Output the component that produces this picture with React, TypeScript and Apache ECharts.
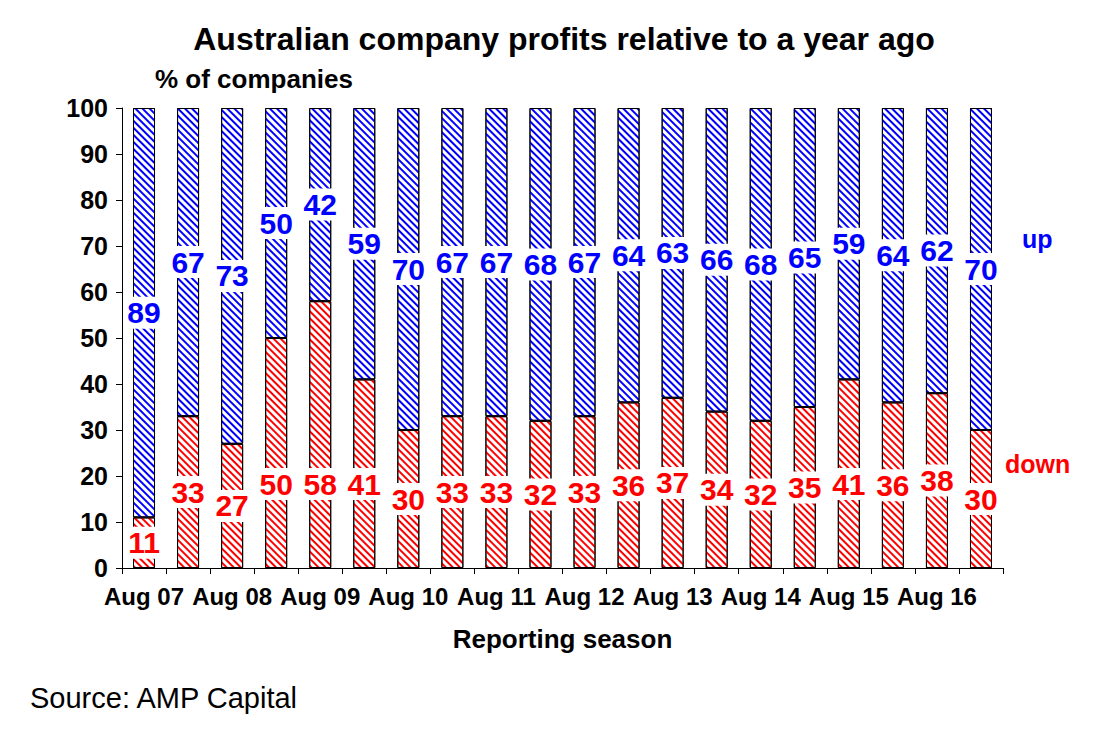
import * as echarts from "echarts";
import { useEffect, useRef } from "react";

const seasons = [
  "Aug 07", "Feb 08", "Aug 08", "Feb 09", "Aug 09", "Feb 10", "Aug 10", "Feb 11", "Aug 11", "Feb 12",
  "Aug 12", "Feb 13", "Aug 13", "Feb 14", "Aug 14", "Feb 15", "Aug 15", "Feb 16", "Aug 16", "Feb 17",
];
const down = [11, 33, 27, 50, 58, 41, 30, 33, 33, 32, 33, 36, 37, 34, 32, 35, 41, 36, 38, 30];
const up = [89, 67, 73, 50, 42, 59, 70, 67, 67, 68, 67, 64, 63, 66, 68, 65, 59, 64, 62, 70];

const FONT = "Liberation Sans, Arial, sans-serif";

function decal(color: string) {
  return {
    symbol: "rect",
    color,
    dashArrayX: [1, 0],
    dashArrayY: [2, 3],
    rotation: Math.PI / 4,
    symbolSize: 1,
  };
}

const labelBase = {
  show: true,
  fontFamily: FONT,
  fontWeight: "bold" as const,
  fontSize: 30,
  backgroundColor: "#fff",
  padding: [1, 1],
};

export default function App() {
  const ref = useRef<HTMLDivElement | null>(null);

  useEffect(() => {
    if (!ref.current) return;
    const chart = echarts.init(ref.current, undefined, { renderer: "svg" });
    chart.setOption({
      animation: false,
      backgroundColor: "#fff",
      textStyle: { fontFamily: FONT },
      title: {
        text: "Australian company profits relative to a year ago",
        left: 559,
        top: 18,
        textAlign: "center",
        textStyle: { fontFamily: FONT, fontWeight: "bold", fontSize: 32, color: "#000" },
      },
      grid: { left: 122, right: 91, top: 108, bottom: 162 },
      xAxis: {
        type: "category",
        data: seasons,
        name: "Reporting season",
        nameLocation: "middle",
        nameGap: 58,
        nameTextStyle: { fontFamily: FONT, fontWeight: "bold", fontSize: 26, color: "#000" },
        axisLine: { lineStyle: { color: "#000", width: 1 } },
        axisTick: { show: true, interval: 0, length: 6, lineStyle: { color: "#000" } },
        axisLabel: {
          interval: 1,
          color: "#000",
          fontFamily: FONT,
          fontWeight: "bold",
          fontSize: 24,
          margin: 16,
        },
      },
      yAxis: {
        type: "value",
        min: 0,
        max: 100,
        interval: 10,
        splitLine: { show: false },
        axisLine: { show: true, lineStyle: { color: "#000" } },
        axisTick: { show: true, length: 6, lineStyle: { color: "#000" } },
        axisLabel: { color: "#000", fontFamily: FONT, fontWeight: "bold", fontSize: 25, margin: 14 },
      },
      series: [
        {
          type: "bar",
          name: "down",
          stack: "all",
          barWidth: 22,
          data: down.map((v) => ({
            value: v,
            label:
              v > 40
                ? { position: "insideBottom", distance: 68 }
                : { position: "inside" },
          })),
          itemStyle: { color: "#fff", borderColor: "#000", borderWidth: 1, decal: decal("#ff0000") },
          label: { ...labelBase, color: "#ff0000" },
        },
        {
          type: "bar",
          name: "up",
          stack: "all",
          barWidth: 22,
          data: up,
          itemStyle: { color: "#fff", borderColor: "#000", borderWidth: 1, decal: decal("#0000ff") },
          label: { ...labelBase, position: "inside", color: "#0000ff" },
        },
      ],
      graphic: [
        {
          type: "text",
          left: 155,
          top: 66,
          style: { text: "% of companies", font: `bold 26px ${FONT}`, fill: "#000" },
        },
        {
          type: "text",
          left: 1022,
          top: 226,
          style: { text: "up", font: `bold 25px ${FONT}`, fill: "#0000ff" },
        },
        {
          type: "text",
          left: 1005,
          top: 451,
          style: { text: "down", font: `bold 25px ${FONT}`, fill: "#ff0000" },
        },
        {
          type: "text",
          left: 30,
          top: 683,
          style: { text: "Source: AMP Capital", font: `29px ${FONT}`, fill: "#000" },
        },
      ],
    });
    return () => chart.dispose();
  }, []);

  return <div ref={ref} style={{ width: 1094, height: 730, margin: -8 }} />;
}
